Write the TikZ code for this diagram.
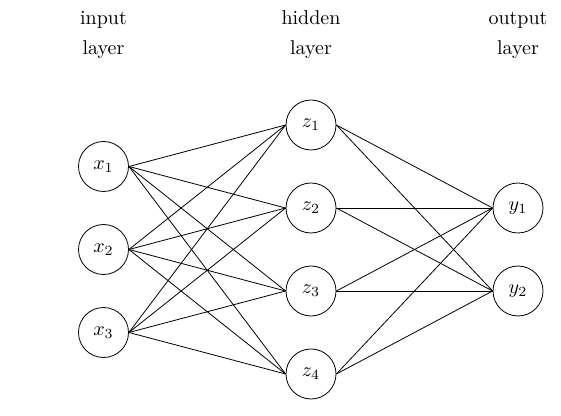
\documentclass[tikz,border=0pt]{standalone}
\usepackage{tikz}
\usepackage{amssymb}
\usepackage{amsfonts}
\usepackage{mathtools}
\usepackage{xcolor}

\tikzset{
  neuron/.style={draw, circle, minimum size=25pt, inner sep=0pt},
  layertext/.style={anchor=base, inner sep=0.75pt}
}

\begin{document}
\begin{tikzpicture}[x=0.5pt,y=0.5pt,yscale=-1,xscale=1]
%set diagram left start at 0, and has height of 416
\path[use as bounding box] (0,0) rectangle (561,416);

%Shape: Circle [id:input layer]
\node[neuron] (x1) at (103.5,166.5) {$x_1$};
\node[neuron] (x2) at (103.5,249.5) {$x_2$};
\node[neuron] (x3) at (103.5,332.5) {$x_3$};
%Shape: Circle [id:hidden layer]
\node[neuron] (z1) at (311,125) {$z_1$};
\node[neuron] (z2) at (311,208) {$z_2$};
\node[neuron] (z3) at (311,291) {$z_3$};
\node[neuron] (z4) at (311,374) {$z_4$};
%Shape: Circle [id:output layer]
\node[neuron] (y1) at (518,208) {$y_1$};
\node[neuron] (y2) at (518,291) {$y_2$};

%Straight Lines [id:input to hidden]
\draw (x1.east) -- (z1.west) ;
\draw (x1.east) -- (z2.west) ;
\draw (x1.east) -- (z3.west) ;
\draw (x1.east) -- (z4.west) ;
\draw (x2.east) -- (z1.west) ;
\draw (x2.east) -- (z2.west) ;
\draw (x2.east) -- (z3.west) ;
\draw (x2.east) -- (z4.west) ;
\draw (x3.east) -- (z1.west) ;
\draw (x3.east) -- (z2.west) ;
\draw (x3.east) -- (z3.west) ;
\draw (x3.east) -- (z4.west) ;
%Straight Lines [id:hidden to output]
\draw (z1.east) -- (y1.west) ;
\draw (z1.east) -- (y2.west) ;
\draw (z2.east) -- (y1.west) ;
\draw (z2.east) -- (y2.west) ;
\draw (z3.east) -- (y1.west) ;
\draw (z3.east) -- (y2.west) ;
\draw (z4.east) -- (y1.west) ;
\draw (z4.east) -- (y2.west) ;

% Text Node
\node[layertext] (intop) at (103.5,25) {input};
\node[layertext] (inbot) at (103.5,55) {layer};
% Text Node
\node[layertext] (hidtop) at (311,25) {hidden};
\node[layertext] (hidbot) at (311,55) {layer};
% Text Node
\node[layertext] (outtop) at (518,25) {output};
\node[layertext] (outbot) at (518,55) {layer};

\end{tikzpicture}
\end{document}
